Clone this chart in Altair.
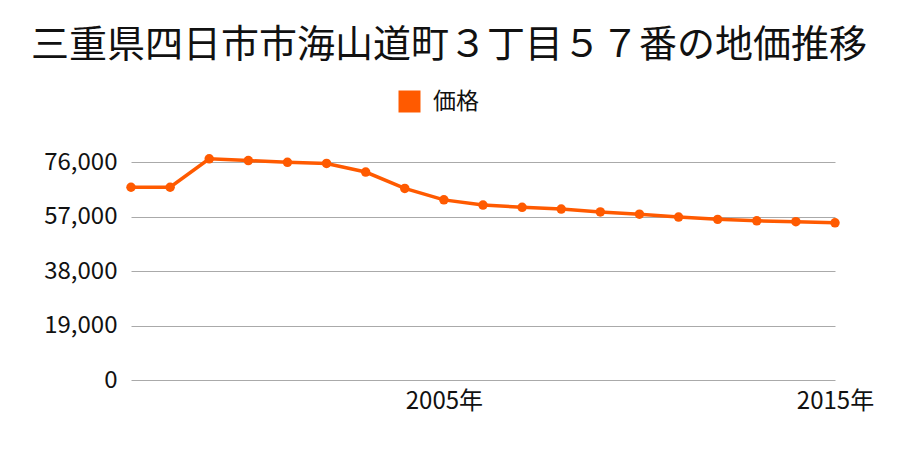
import altair as alt
import pandas as pd

years = list(range(1997, 2016))
prices = [67200, 67200, 77100, 76500, 75900, 75500, 72500, 66800, 62800, 61000,
          60200, 59600, 58600, 57800, 56800, 56000, 55500, 55200, 54800]
series = ["価格"] * len(years)
title_text = "三重県四日市市海山道町３丁目５７番の地価推移"
y_ticks = [0, 19000, 38000, 57000, 76000]
x_label_years = [2005, 2015]

df = pd.DataFrame({"year": years, "price": prices, "series": series})
FONT = "Noto Sans CJK JP"
COLOR = "#ff5a00"

x = alt.X("year:O", scale=alt.Scale(type="point", padding=0),
          axis=alt.Axis(title=None, labelAngle=0, ticks=False, domain=False, grid=False,
                        labelExpr="(datum.value == 2005 || datum.value == 2015) ? datum.value + '年' : ''",
                        labelFontSize=24, labelFont=FONT, labelColor="#111", labelPadding=9))
y = alt.Y("price:Q", scale=alt.Scale(domain=[0, 76000], nice=False, zero=True),
          axis=alt.Axis(title=None, values=y_ticks, ticks=False, domain=False,
                        labelExpr="format(datum.value, ',')",
                        gridColor="#aaaaaa", gridWidth=1, labelFontSize=24, labelFont=FONT,
                        labelColor="#111", labelPadding=14))
color = alt.Color("series:N", scale=alt.Scale(range=[COLOR]),
                  legend=alt.Legend(title=None, orient="none", legendX=267, legendY=-72,
                                    symbolType="square", symbolSize=484, symbolStrokeWidth=0,
                                    symbolOpacity=1, labelFontSize=23, labelFont=FONT,
                                    labelColor="#111", labelOffset=12))

line = alt.Chart(df).mark_line(strokeWidth=3.5, clip=False).encode(x=x, y=y, color=color)
pts = alt.Chart(df).mark_point(filled=True, size=90, opacity=1, clip=False).encode(x=x, y=y, color=color)

chart = alt.layer(line, pts).properties(
    width=704, height=218,
    title=alt.TitleParams(title_text, fontSize=38, font=FONT, fontWeight="normal",
                          color="#111", anchor="middle", dx=-34, offset=25),
    autosize=alt.AutoSizeParams(type="none"),
    padding={"left": 131, "top": 162, "right": 65, "bottom": 70},
).configure_view(stroke=None)

chart.save("out.html", embed_options={"renderer": "svg", "actions": False})
